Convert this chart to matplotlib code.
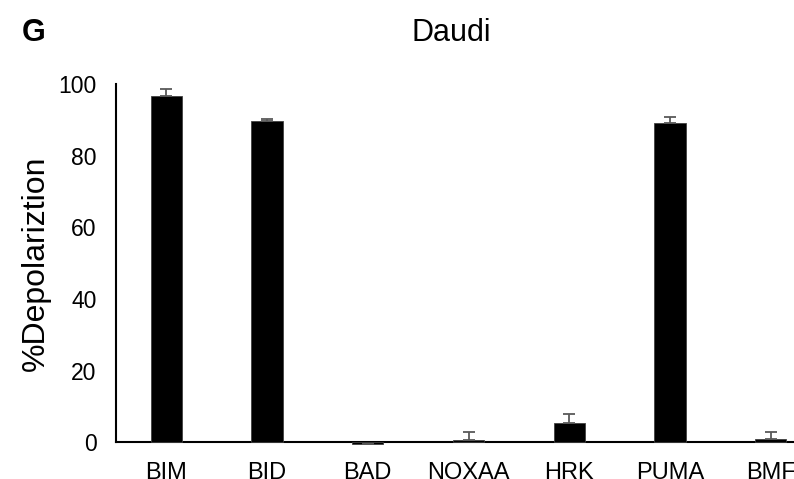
import matplotlib.pyplot as plt
import numpy as np

plt.rcParams["font.family"] = ["Liberation Sans", "DejaVu Sans"]

# peptide profiling, Daudi cells
peptides = ["BIM", "BID", "BAD", "NOXAA", "HRK", "PUMA", "BMF"]
depol = [96.7, 89.8, -0.5, 0.7, 5.4, 89.2, 1.0]
err_up = [2.0, 0.5, 0.0, 2.2, 2.4, 1.5, 2.0]

fig = plt.figure(figsize=(7.94, 4.79), dpi=100)
# axes run past the right edge on purpose
ax = fig.add_axes([116/794, 36.7/479, 705/794, 358.3/479])

x = np.arange(len(peptides))
ax.bar(x, depol, width=0.31, color="black", edgecolor="#404040", linewidth=0.6,
       clip_on=False, zorder=2)
ax.errorbar(x, depol, yerr=[np.zeros(len(err_up)), err_up], fmt="none",
            ecolor="#595959", elinewidth=1.3, capsize=4, capthick=1.3,
            clip_on=False, zorder=3)

ax.set_xlim(-0.5, 6.5)
ax.set_ylim(0, 100)
ax.set_yticks([0, 20, 40, 60, 80, 100])
ax.set_xticks(x)
ax.set_xticklabels(peptides)
ax.tick_params(axis="x", length=0, labelsize=17, pad=14)
ax.tick_params(axis="y", length=0, labelsize=16.5, pad=14)

for s in ["top", "right"]:
    ax.spines[s].set_visible(False)
ax.spines["left"].set_linewidth(1.5)
ax.spines["bottom"].set_linewidth(1.5)
ax.spines["bottom"].set_zorder(1)

ax.set_ylabel("%Depolariztion", fontsize=23, labelpad=5)
fig.text(451/794, 1 - 33/479, "Daudi", fontsize=22, ha="center", va="center")
fig.text(22/794, 1 - 33/479, "G", fontsize=22, fontweight="bold", va="center")

fig.savefig("out.png", dpi=100)
